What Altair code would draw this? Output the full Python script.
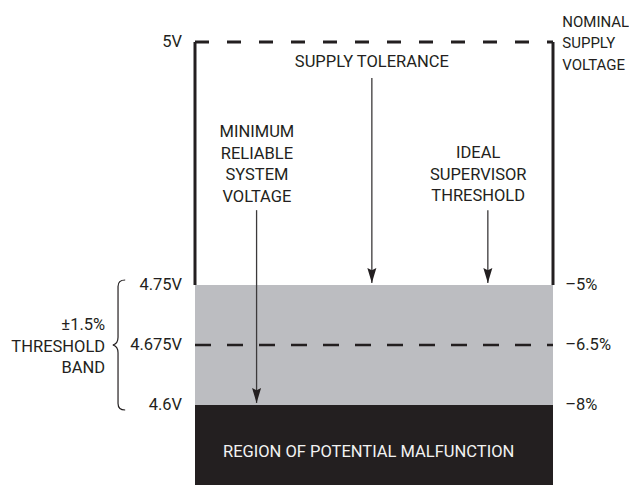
import altair as alt
import pandas as pd

FONT = "Roboto, Liberation Sans Narrow, DejaVu Sans Condensed, sans-serif"
INK = "#231f20"
GREY = "#bcbdc1"
FS = 16.5
LH = 21.5

# ---- data (voltage levels and labels) ----
levels = [5.0, 4.75, 4.675, 4.6]
volt_labels = ["5V", "4.75V", "4.675V", "4.6V"]
pct_levels = [4.75, 4.675, 4.6]
pct_labels = ["–5%", "–6.5%", "–8%"]
floor_v = 4.5

# regions: (top, bottom, colour)
region_top = [4.75, 4.6]
region_bottom = [4.6, floor_v]
region_color = [GREY, INK]

# arrows (x in diagram units 0..100 across the box)
arrow_x = [49.4, 81.8, 17.2]
arrow_from = [4.963, 4.827, 4.827]
arrow_to = [4.752, 4.752, 4.6025]

# annotation blocks (y = first line)
center_text = ["SUPPLY TOLERANCE", "MINIMUM\nRELIABLE\nSYSTEM\nVOLTAGE", "IDEAL\nSUPERVISOR\nTHRESHOLD"]
center_x = [49.4, 17.3, 79.1]
center_y = [4.979, 4.9074, 4.8858]

nominal_text = ["NOMINAL\nSUPPLY\nVOLTAGE"]
nominal_y = 5.0206
band_text = ["±1.5%\nTHRESHOLD\nBAND"]
band_y = 4.7
region_text = ["REGION OF POTENTIAL MALFUNCTION"]
region_y = 4.5466

LEFT_X = -3.6
RIGHT_X = 103.4
NOM_X = 102.6
BAND_X = -25.1
BRACE_X = -21.5

W, H = 621, 477

xs = alt.Scale(domain=[0, 100], range=[187, 545], nice=False, zero=False)
ys = alt.Scale(domain=[5.0, 4.75, 4.6, floor_v], range=[34, 277, 397, 485], nice=False, zero=False)


def X(f="x"):
    return alt.X(f"{f}:Q", scale=xs, axis=None)


def Y(f="y"):
    return alt.Y(f"{f}:Q", scale=ys, axis=None)


rects = pd.DataFrame({"x": 0, "x2": 100, "y": region_top, "y2": region_bottom, "c": region_color})
rect_layer = alt.Chart(rects).mark_rect().encode(
    x=X(), x2="x2:Q", y=Y(), y2="y2:Q", color=alt.Color("c:N", scale=None)
)

sides = pd.DataFrame({"x": [0, 100], "y": levels[0], "y2": levels[1]})
side_layer = alt.Chart(sides).mark_rule(color=INK, strokeWidth=3).encode(x=X(), y=Y(), y2="y2:Q")

top_df = pd.DataFrame({"x": [0], "x2": [100], "y": [levels[0]]})
top_layer = alt.Chart(top_df).mark_rule(color=INK, strokeWidth=3, strokeDash=[14, 18]).encode(
    x=X(), x2="x2:Q", y=Y()
)
mid_df = pd.DataFrame({"x": [0], "x2": [100], "y": [levels[2]]})
mid_layer = alt.Chart(mid_df).mark_rule(color=INK, strokeWidth=2.6, strokeDash=[16, 16]).encode(
    x=X(), x2="x2:Q", y=Y()
)

arrows = pd.DataFrame({"x": arrow_x, "y": arrow_from, "y2": arrow_to})
arrow_lines = alt.Chart(arrows).mark_rule(color="#3c3a3b", strokeWidth=1.3).encode(x=X(), y=Y(), y2="y2:Q")
heads = pd.DataFrame({"x": arrow_x, "y": arrow_to})
arrow_heads = alt.Chart(heads).mark_point(
    shape="M -0.6 -2 L 0 -1.7 L 0.6 -2 L 0 0 Z", size=225, filled=True, color=INK, opacity=1, strokeWidth=0
).encode(x=X(), y=Y())

brace_df = pd.DataFrame({"x": [BRACE_X], "y": [levels[2]]})
brace = alt.Chart(brace_df).mark_point(
    shape="M 0.11 -1 Q 0 -1 0 -0.9 L 0 -0.12 Q 0 -0.02 -0.08 0 Q 0 0.02 0 0.12 L 0 0.9 Q 0 1 0.11 1",
    size=16900, filled=False, color=INK, opacity=1, strokeWidth=1.2
).encode(x=X(), y=Y())

tk = dict(font=FONT, fontSize=FS, color=INK, baseline="middle", lineBreak="\n", lineHeight=LH)

vl_df = pd.DataFrame({"x": LEFT_X, "y": levels, "t": volt_labels})
vl_layer = alt.Chart(vl_df).mark_text(align="right", **tk).encode(x=X(), y=Y(), text="t:N")

pl_df = pd.DataFrame({"x": RIGHT_X, "y": pct_levels, "t": pct_labels})
pl_layer = alt.Chart(pl_df).mark_text(align="left", **tk).encode(x=X(), y=Y(), text="t:N")

tk_nom = dict(tk)
tk_nom["fontSize"] = 15
nom_df = pd.DataFrame({"x": [NOM_X], "y": [nominal_y], "t": nominal_text})
nom_layer = alt.Chart(nom_df).mark_text(align="left", **tk_nom).encode(x=X(), y=Y(), text="t:N")

ctr_df = pd.DataFrame({"x": center_x, "y": center_y, "t": center_text})
ctr_layer = alt.Chart(ctr_df).mark_text(align="center", **tk).encode(x=X(), y=Y(), text="t:N")

band_df = pd.DataFrame({"x": [BAND_X], "y": [band_y], "t": band_text})
band_layer = alt.Chart(band_df).mark_text(align="right", **tk).encode(x=X(), y=Y(), text="t:N")

tk_white = dict(tk)
tk_white["color"] = "#f2f2f2"
reg_df = pd.DataFrame({"x": [48.5], "y": [region_y], "t": region_text})
reg_layer = alt.Chart(reg_df).mark_text(align="center", **tk_white).encode(x=X(), y=Y(), text="t:N")

chart = alt.layer(
    rect_layer, side_layer, top_layer, mid_layer, arrow_lines, arrow_heads, brace,
    vl_layer, pl_layer, nom_layer, ctr_layer, band_layer, reg_layer
).properties(
    width=W, height=H, autosize="none", padding=0, background="white"
).configure_view(strokeWidth=0)

chart.save("out.html", embed_options={"renderer": "svg", "actions": False})
